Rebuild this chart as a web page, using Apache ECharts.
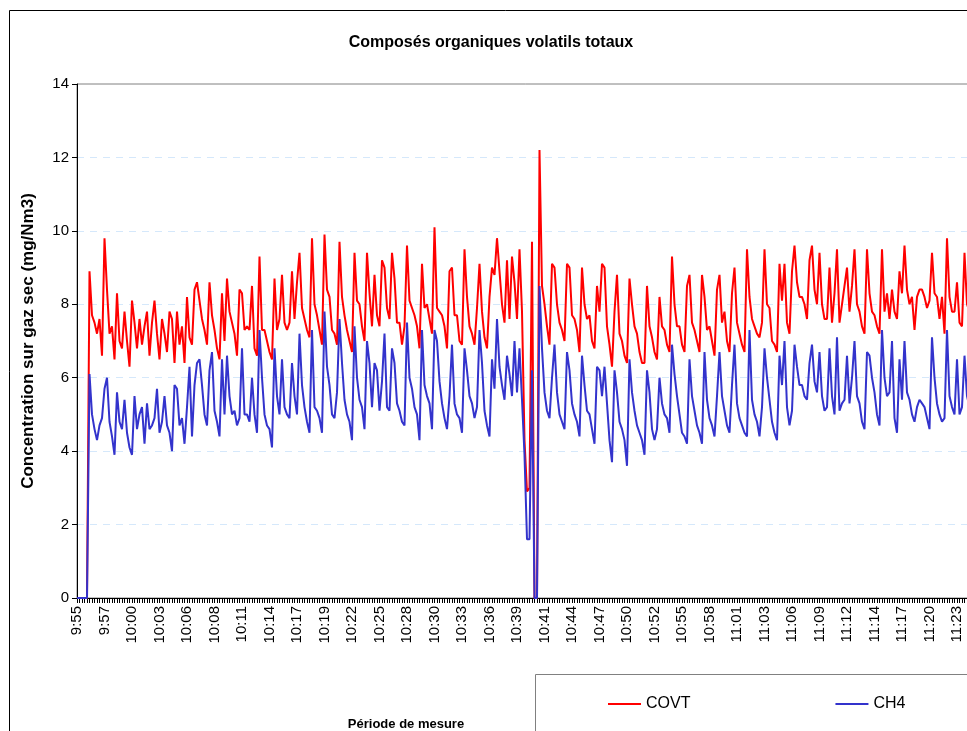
<!DOCTYPE html>
<html>
<head>
<meta charset="utf-8">
<script src="https://cdn.jsdelivr.net/npm/echarts@6/dist/echarts.min.js"></script>
<style>
  html, body { margin: 0; padding: 0; overflow: hidden; background: #fff; }
  #cov-container { width: 1000px; height: 731px; }
</style>
</head>
<body>
<div id="cov-container"></div>
<script>
// mesures toutes les 15 s à partir de 9:55:00
const startTime = '9:55:00'
const stepSeconds = 15

const tickLabels = ['9:55', '9:57', '10:00', '10:03', '10:06', '10:08', '10:11', '10:14', '10:17', '10:19',
  '10:22', '10:25', '10:28', '10:30', '10:33', '10:36', '10:39', '10:41', '10:44', '10:47', '10:50',
  '10:52', '10:55', '10:58', '11:01', '11:03', '11:06', '11:09', '11:12', '11:14', '11:17', '11:20', '11:23']

const covt = [
  0, 0, 0, 0, 0, 8.9, 7.7, 7.5, 7.2, 7.6, 6.6, 9.8, 8.4, 7.2, 7.4, 6.5, 8.3, 7.0, 6.8, 7.8,
  7.0, 6.3, 8.1, 7.5, 6.8, 7.6, 6.9, 7.4, 7.8, 6.6, 7.5, 8.1, 7.2, 6.5, 7.6, 7.2, 6.7, 7.8, 7.6, 6.4,
  7.8, 6.9, 7.4, 6.4, 8.2, 7.1, 6.9, 8.4, 8.6, 8.1, 7.6, 7.3, 6.9, 8.6, 7.7, 7.3, 6.8, 6.5, 8.3, 7.0,
  8.7, 7.8, 7.5, 7.2, 6.6, 8.4, 8.3, 7.3, 7.4, 7.3, 8.5, 6.8, 6.6, 9.3, 7.3, 7.3, 7.0, 6.7, 6.5, 8.7,
  7.3, 7.6, 8.8, 7.5, 7.3, 7.5, 8.9, 7.6, 8.6, 9.4, 7.9, 7.6, 7.3, 7.1, 9.8, 8.0, 7.7, 7.3, 6.9, 9.9,
  8.4, 8.2, 7.3, 7.2, 6.9, 9.7, 8.2, 7.7, 7.3, 7.0, 6.7, 9.4, 8.1, 8.0, 7.4, 7.0, 9.4, 8.3, 7.4, 8.8,
  7.7, 7.4, 9.2, 9.0, 7.9, 7.6, 9.4, 8.7, 7.5, 7.5, 6.9, 7.4, 9.6, 8.1, 7.9, 7.7, 7.4, 6.8, 9.1, 7.9,
  8.0, 7.6, 7.2, 10.1, 7.9, 7.8, 7.7, 7.4, 6.8, 8.9, 9.0, 7.7, 7.7, 7.0, 6.9, 9.5, 8.2, 7.4, 7.2, 6.9,
  7.9, 9.1, 7.8, 7.1, 6.8, 8.2, 9.0, 8.8, 9.8, 8.9, 8.0, 7.5, 9.2, 7.6, 9.3, 8.6, 7.6, 9.5, 7.8, 4.3,
  2.9, 3.0, 9.7, 0, 0, 12.2, 8.5, 8.0, 7.4, 6.9, 9.1, 9.0, 8.0, 7.5, 7.3, 7.0, 9.1, 9.0, 7.7, 7.6,
  7.3, 6.7, 9.0, 8.0, 7.6, 7.7, 7.0, 6.8, 8.5, 7.8, 9.1, 9.0, 7.4, 6.9, 6.3, 7.8, 8.8, 7.2, 7.0, 6.6,
  6.4, 8.7, 8.0, 7.4, 7.2, 6.7, 6.4, 6.4, 8.5, 7.4, 7.1, 6.7, 6.5, 8.2, 7.4, 7.3, 6.9, 6.7, 9.3, 8.0,
  7.4, 7.4, 6.9, 6.7, 8.5, 8.8, 7.5, 7.3, 7.0, 6.7, 8.8, 8.2, 7.3, 7.4, 7.0, 6.6, 8.4, 8.8, 7.5, 7.8,
  7.0, 6.7, 8.3, 9.0, 7.5, 7.2, 6.9, 6.7, 9.5, 8.2, 7.6, 7.4, 7.2, 7.1, 7.5, 9.5, 8.0, 7.9, 7.0, 6.9,
  6.7, 9.1, 8.1, 9.1, 7.5, 7.2, 8.9, 9.6, 8.6, 8.2, 8.2, 8.0, 7.6, 9.2, 9.6, 8.4, 8.0, 9.4, 8.0, 7.6,
  7.6, 9.0, 7.5, 8.3, 9.5, 7.5, 8.0, 8.5, 9.0, 7.8, 8.5, 9.5, 8.0, 7.8, 7.4, 7.2, 9.5, 8.3, 7.8, 7.7,
  7.4, 7.2, 9.5, 7.8, 8.3, 7.6, 8.4, 7.8, 7.6, 8.9, 8.3, 9.6, 8.4, 8.0, 8.2, 7.3, 8.2, 8.4, 8.4, 8.2,
  7.9, 8.1, 9.4, 8.3, 8.2, 7.6, 8.2, 7.2, 9.8, 8.2, 7.8, 7.8, 8.6, 7.5, 7.4, 9.4, 8.0, 7.8, 7.6, 7.5
]

const ch4 = [
  0, 0, 0, 0, 0, 6.1, 5.0, 4.6, 4.3, 4.7, 4.9, 5.7, 6.0, 4.8, 4.4, 3.9, 5.6, 4.8, 4.6, 5.4,
  4.5, 4.1, 3.9, 5.5, 4.6, 5.0, 5.2, 4.2, 5.3, 4.6, 4.7, 4.9, 5.7, 4.5, 4.8, 5.5, 4.7, 4.5, 4.0, 5.8,
  5.7, 4.7, 4.9, 4.2, 5.2, 6.3, 4.4, 5.8, 6.4, 6.5, 5.8, 5.0, 4.7, 6.2, 6.7, 5.1, 4.8, 4.4, 6.5, 5.0,
  6.6, 5.5, 5.0, 5.1, 4.7, 4.9, 6.8, 5.0, 5.0, 4.8, 6.0, 5.0, 4.5, 7.3, 6.0, 5.0, 4.7, 4.6, 4.1, 6.8,
  5.5, 5.0, 6.5, 5.2, 5.0, 4.9, 6.4, 5.5, 5.0, 7.2, 5.8, 5.2, 4.8, 4.5, 7.3, 5.2, 5.1, 4.9, 4.5, 7.8,
  6.3, 5.8, 5.0, 4.9, 5.6, 7.6, 6.4, 5.4, 5.0, 4.8, 4.3, 7.4, 6.0, 5.4, 5.2, 4.6, 7.0, 6.4, 5.2, 6.4,
  6.2, 5.1, 5.9, 7.2, 5.2, 5.1, 6.8, 6.4, 5.3, 5.1, 4.8, 4.7, 7.5, 6.0, 5.7, 5.2, 5.0, 4.3, 7.3, 5.8,
  5.5, 5.3, 4.6, 7.3, 7.0, 5.9, 5.3, 4.9, 4.6, 5.5, 6.9, 5.3, 5.0, 4.9, 4.5, 6.8, 6.2, 5.5, 5.3, 4.9,
  5.2, 7.3, 6.4, 5.1, 4.7, 4.4, 6.5, 5.7, 7.6, 6.3, 5.8, 5.4, 6.6, 6.1, 5.5, 7.0, 5.6, 6.8, 5.4, 3.9,
  1.6, 1.6, 6.2, 0, 0, 8.5, 6.8, 5.6, 5.1, 4.9, 6.0, 6.9, 5.6, 5.0, 4.8, 4.6, 6.7, 6.2, 5.3, 5.0,
  4.8, 4.4, 6.6, 5.8, 5.1, 5.0, 4.6, 4.2, 6.3, 6.2, 5.5, 6.3, 5.3, 4.3, 3.7, 6.2, 5.6, 4.8, 4.6, 4.3,
  3.6, 6.5, 5.6, 5.1, 4.7, 4.5, 4.3, 3.9, 6.2, 5.6, 4.6, 4.3, 4.6, 6.0, 5.3, 5.0, 4.9, 4.5, 6.9, 6.1,
  5.5, 5.0, 4.5, 4.4, 4.2, 6.5, 5.5, 5.1, 4.7, 4.5, 4.2, 6.7, 5.4, 4.9, 4.7, 4.4, 5.5, 6.7, 5.5, 5.1,
  4.7, 4.5, 5.8, 6.9, 5.3, 4.9, 4.7, 4.5, 4.4, 7.3, 5.4, 5.0, 4.8, 4.4, 5.2, 6.8, 6.0, 5.4, 4.8, 4.5,
  4.3, 6.6, 5.8, 7.0, 5.2, 4.7, 5.1, 6.9, 6.3, 5.8, 5.8, 5.5, 5.4, 6.4, 6.9, 5.9, 5.6, 6.7, 5.5, 5.1,
  5.2, 6.8, 5.5, 5.0, 7.1, 5.1, 5.3, 5.4, 6.6, 5.3, 6.0, 7.0, 5.5, 5.3, 4.8, 4.6, 6.7, 6.6, 6.0, 5.6,
  5.0, 4.7, 7.3, 6.0, 5.5, 5.6, 7.0, 4.9, 4.5, 6.5, 5.4, 7.0, 5.6, 5.4, 5.0, 4.8, 5.2, 5.4, 5.3, 5.2,
  4.9, 4.6, 7.1, 6.0, 5.3, 5.0, 4.8, 4.9, 7.3, 5.5, 5.2, 5.0, 6.5, 5.0, 5.2, 6.6, 5.5, 5.2, 5.0, 4.9
]

// axe des temps : une catégorie par mesure
const times = []
const [h0, m0, s0] = startTime.split(':').map(Number)
for (let i = 0; i < covt.length; i++) {
  const t = h0 * 3600 + m0 * 60 + s0 + i * stepSeconds
  const hh = Math.floor(t / 3600)
  const mm = String(Math.floor((t % 3600) / 60)).padStart(2, '0')
  const ss = String(t % 60).padStart(2, '0')
  times.push(`${hh}:${mm}:${ss}`)
}
const labelEvery = 11

const font = 'Arial, "Liberation Sans", sans-serif'
const myChart = echarts.init(document.getElementById('cov-container'))

myChart.setOption({
  animation: false,
  textStyle: { fontFamily: font },
  title: [
    {
      text: 'Composés organiques volatils totaux',
      left: 486,
      top: 30,
      textAlign: 'center',
      textStyle: { fontSize: 16, fontWeight: 'bold', color: '#000', fontFamily: font }
    },
    {
      text: 'Période de mesure',
      left: 401,
      top: 713,
      textAlign: 'center',
      textStyle: { fontSize: 13, fontWeight: 'bold', color: '#000', fontFamily: font }
    }
  ],
  graphic: [
    {
      type: 'rect',
      shape: { x: 9.5, y: 10.5, width: 1100, height: 900 },
      style: { fill: 'none', stroke: '#000', lineWidth: 1 },
      silent: true
    },
    {
      type: 'rect',
      shape: { x: 535.5, y: 674.5, width: 600, height: 100 },
      style: { fill: '#fff', stroke: '#808080', lineWidth: 1 },
      silent: true
    }
  ],
  legend: {
    data: ['COVT', 'CH4'],
    left: 603,
    top: 691,
    icon: 'rect',
    itemWidth: 33,
    itemHeight: 2,
    itemGap: 145,
    textStyle: { fontSize: 16, color: '#000', fontFamily: font },
    z: 10
  },
  grid: {
    left: 77,
    top: 84,
    width: (covt.length - 1) * 2.5,
    height: 514,
    show: true,
    borderColor: '#808080',
    borderWidth: 1
  },
  xAxis: {
    type: 'category',
    data: times,
    boundaryGap: false,
    axisLine: { lineStyle: { color: '#000', width: 1 } },
    axisTick: { interval: 0, length: 5, lineStyle: { color: '#000' } },
    axisLabel: {
      interval: labelEvery - 1,
      rotate: 90,
      fontSize: 15,
      color: '#000',
      margin: 8,
      formatter: (v, i) => tickLabels[i / labelEvery] || ''
    },
    splitLine: { show: false }
  },
  yAxis: {
    type: 'value',
    min: 0,
    max: 14,
    interval: 2,
    name: 'Concentration sur gaz sec (mg/Nm3)',
    nameLocation: 'middle',
    nameGap: 40,
    nameTextStyle: { fontSize: 17, fontWeight: 'bold', color: '#000', fontFamily: font },
    axisLine: { show: true, lineStyle: { color: '#000', width: 1 } },
    axisTick: { show: true, length: 5, lineStyle: { color: '#000' } },
    axisLabel: { fontSize: 15, color: '#000', margin: 8 },
    splitLine: {
      show: true,
      showMinLine: false,
      showMaxLine: false,
      lineStyle: { color: '#d5e8fb', type: [7, 6], width: 1 }
    }
  },
  series: [
    {
      name: 'COVT',
      type: 'line',
      data: covt,
      symbol: 'none',
      color: '#ff0000',
      lineStyle: { width: 2, color: '#ff0000' }
    },
    {
      name: 'CH4',
      type: 'line',
      data: ch4,
      symbol: 'none',
      color: '#3333cc',
      lineStyle: { width: 2, color: '#3333cc' }
    }
  ]
})
</script>
</body>
</html>
